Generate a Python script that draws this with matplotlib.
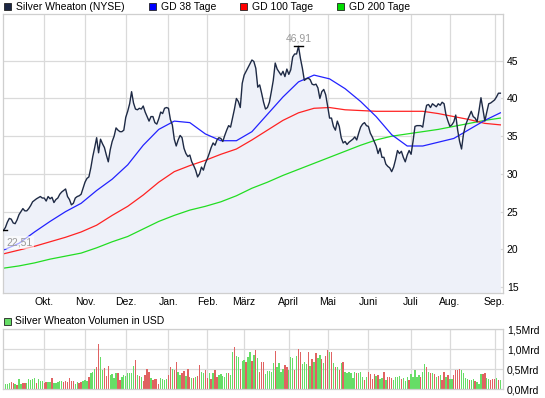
import numpy as np
import pandas as pd
import matplotlib
matplotlib.use('Agg')
import matplotlib.pyplot as plt
from matplotlib.patches import Rectangle

plt.rcParams['font.family'] = ['Liberation Sans', 'DejaVu Sans']
plt.rcParams['font.size'] = 7.5

# NYSE trading days Sep 2010 - Sep 2011
holidays = ['2010-09-06', '2010-11-25', '2010-12-24', '2011-01-17', '2011-02-21',
            '2011-04-22', '2011-05-30', '2011-07-04', '2011-09-05']
dates = pd.bdate_range('2010-09-01', '2011-09-07', freq='C', holidays=holidays)

price = [
    22.51, 22.9, 23.6, 24.1, 24.0, 23.5, 23.4, 23.9, 24.6, 25.0,
    25.4, 25.1, 25.1, 25.4, 25.8, 26.3, 26.5, 26.7, 26.85, 27.0,
    26.8, 26.8, 26.4, 27.0, 26.7, 26.9, 26.2, 26.6, 26.8, 27.3,
    27.6, 27.8, 28.0, 27.0, 26.6, 25.9, 26.1, 26.8, 27.0, 27.1,
    27.3, 28.1, 28.9, 29.4, 29.6, 30.8, 32.3, 33.5, 34.8, 32.8,
    34.6, 34.0, 33.5, 32.5, 31.6, 33.2, 34.3, 35.0, 36.1, 35.8,
    35.6, 35.6, 35.8, 37.5, 38.3, 39.3, 40.9, 39.4, 38.6, 38.5,
    38.7, 38.6, 39.0, 38.2, 37.6, 37.0, 37.6, 37.6, 36.8, 36.6,
    37.3, 38.2, 38.0, 38.7, 38.8, 38.7, 37.2, 36.5, 34.6, 33.7,
    34.5, 35.1, 34.8, 33.4, 32.7, 32.3, 32.5, 31.6, 31.1, 30.5,
    29.6, 30.0, 30.9, 30.5, 31.4, 32.0, 32.7, 33.5, 34.1, 33.8,
    34.5, 34.8, 34.7, 34.3, 35.1, 35.8, 36.4, 36.2, 37.4, 38.6,
    40.0, 39.6, 38.8, 42.0, 43.1, 43.6, 44.1, 44.6, 45.1, 44.9,
    44.0, 41.5, 41.8, 40.7, 39.5, 38.6, 38.8, 39.5, 40.9, 42.4,
    44.7, 43.9, 43.5, 43.1, 43.6, 42.9, 43.9, 43.2, 43.8, 45.5,
    45.9, 45.9, 46.91, 45.3, 44.0, 42.4, 42.6, 42.7, 42.5, 41.9,
    41.8, 41.9, 41.4, 40.0, 40.9, 41.2, 40.5, 39.0, 37.4, 37.4,
    36.3, 35.8, 37.0, 36.3, 34.8, 34.1, 34.3, 33.9, 34.2, 34.4,
    34.6, 34.9, 34.5, 35.4, 36.2, 36.6, 36.8, 36.4, 36.3, 35.4,
    34.9, 34.3, 33.7, 32.7, 33.4, 32.2, 32.2, 31.3, 31.0, 30.8,
    30.3, 30.9, 31.9, 33.1, 32.7, 33.0, 32.2, 31.6, 32.5, 33.1,
    32.6, 34.3, 36.3, 36.4, 36.4, 36.4, 36.2, 37.9, 39.1, 39.2,
    38.8, 39.3, 39.1, 38.9, 39.3, 39.1, 39.5, 39.3, 37.8, 37.0,
    36.3, 36.5, 36.9, 37.8, 35.8, 34.3, 33.3, 35.3, 36.4, 37.1,
    37.7, 38.3, 37.6, 37.4, 36.9, 38.4, 40.1, 38.6, 37.0, 38.2,
    39.3, 39.4, 39.6, 39.8, 40.2, 40.7, 40.7,
]

# moving averages read every 8 trading days
ma_days = list(range(0, 257, 8))
gd38 = [19.9, 20.8, 22.3, 23.7, 25.0, 26.1, 27.8, 29.3, 31.2, 33.8, 35.9,
        37.0, 36.8, 35.3, 34.4, 34.4, 35.6, 37.9, 40.2, 42.2, 43.1, 42.6,
        41.3, 39.6, 37.6, 35.2, 33.7, 33.7, 34.2, 34.7, 35.9, 37.1, 38.1]
gd100 = [19.4, 19.9, 20.4, 21.0, 21.6, 22.3, 23.2, 24.5, 25.7, 27.2, 28.9,
         30.3, 31.1, 31.8, 32.6, 33.3, 34.5, 35.8, 37.1, 38.1, 38.7, 38.8,
         38.5, 38.4, 38.3, 38.3, 38.3, 38.3, 38.0, 37.6, 37.2, 36.7, 36.5]
gd200 = [17.5, 17.8, 18.2, 18.7, 19.1, 19.5, 20.2, 21.0, 21.7, 22.7, 23.7,
         24.5, 25.2, 25.7, 26.3, 27.1, 28.1, 28.9, 29.8, 30.6, 31.4, 32.2,
         33.0, 33.8, 34.5, 35.0, 35.3, 35.6, 35.9, 36.3, 36.7, 37.1, 37.4]

# volume in Mrd USD, g = up day, r = down day
volume = [
    .13, .13, .14, .17, .18, .17, .13, .11, .26, .13,
    .16, .16, .16, .25, .24, .27, .28, .17, .25, .21,
    .22, .16, .18, .18, .18, .28, .16, .15, .18, .22,
    .20, .19, .20, .18, .28, .21, .21, .14, .19, .17,
    .18, .20, .23, .21, .30, .40, .43, .50, .55, 1.13,
    .80, .48, .53, .34, .58, .36, .38, .28, .41, .41,
    .23, .30, .36, .33, .40, .40, .40, .58, .73, .36,
    .34, .32, .22, .36, .50, .44, .28, .23, .25, .25,
    .13, .28, .26, .23, .26, .36, .55, .52, .48, .68,
    .44, .36, .40, .46, .33, .52, .32, .29, .29, .32,
    .34, .61, .44, .42, .48, .29, .40, .25, .42, .48,
    .32, .36, .38, .33, .32, .42, .42, .36, .94, 1.07,
    .83, .80, .50, .70, .73, .69, .80, .94, .71, .86,
    .98,
    .78, .44, .68, .68, .38, .45, .45, .43, .65, .96,
    .57, .65, .43, .50, .61, .57, .48, .80, .78, .48,
    .83, 1.00, .93, .63, .69, .63, .93, .58, .75, .69,
    .92, .78, .86, .77, .65, .83, .98, .93, .93, .65,
    .55, .57, .48, .67, .68, .44, .42, .44, .42, .28,
    .44, .40, .40, .43, .32, .23, .32, .43, .38, .25,
    .38, .33, .36, .25, .28, .44, .23, .32, .30, .28,
    .23, .30, .30, .33, .26, .28, .21, .32, .23, .38,
    .32, .48, .32, .36, .32, .44, .63, .55, .44, .42,
    .40, .38, .32, .33, .36, .23, .44, .32, .36, .26,
    .26, .35, .48, .48, .50, .48, .40, .28, .25, .23,
    .24, .25, .22, .19, .13, .38, .38, .42, .28, .25,
    .23, .25, .25, .28, .23, .23,
]
vol_dir = ("rgggrrgrgg" "rrgggggrgg" "grrggrgggg" "grrrrrrggr" "rgggrgggrr"
           "ggrrrggggr" "rgggggggrg" "rgrrrrgrrr" "rggggrrgrr" "ggrrgrrgrg"
           "rrggrrgrgr" "rgggggrggr" "ggrggrggrg" "r"
           "grrrgggggr" "ggggrrgggr" "grrgggrgrg" "rggrgrrgrg" "rgrgrggggg"
           "grgggrgrrr" "rgrggrgrrr" "ggggrgggrg" "ggggrggrgr" "grgrgrrgrg"
           "grrrrggggr" "ggrgggrrgg" "rrrgrg")

month_names = ['Okt.', 'Nov.', 'Dez.', 'Jan.', 'Feb.', 'März', 'April', 'Mai',
               'Juni', 'Juli', 'Aug.', 'Sep.']

assert len(price) == len(dates) == len(volume) == len(vol_dir)

x = np.arange(len(price))
month_start = [i for i in range(1, len(dates)) if dates[i].month != dates[i - 1].month]

W, H = 545, 398
def box(l, t, r, b):
    return [l / W, 1 - b / H, (r - l) / W, (b - t) / H]

fig = plt.figure(figsize=(W / 100, H / 100), dpi=100)
ax = fig.add_axes(box(2.7, 14, 502.7, 293.3))
axv = fig.add_axes(box(2.7, 329.3, 502.7, 389.3))

grid_c = '#dadada'
for a in (ax, axv):
    a.set_xlim(-0.4, 257.2)
    a.set_xticks(month_start)
    a.grid(color=grid_c, lw=0.9)
    a.set_axisbelow(True)
    a.yaxis.tick_right()
    a.tick_params(length=0, pad=3, labelsize=7.5)
    for s in a.spines.values():
        s.set_color('#cfcfcf')
        s.set_linewidth(0.9)

# price panel
ax.fill_between(x, price, 0, color='#eef1f9', lw=0, zorder=1)
ax.plot(ma_days, gd200, color='#22dd22', lw=0.9, zorder=2)
ax.plot(ma_days, gd100, color='#ff2222', lw=0.9, zorder=2)
ax.plot(ma_days, gd38, color='#2222ff', lw=0.9, zorder=2)
ax.plot(x, price, color='#1e2a45', lw=1.0, zorder=3)
ax.set_ylim(14.17, 51.2)
ax.set_yticks([15, 20, 25, 30, 35, 40, 45])
ax.set_xticklabels(month_names)

ip = int(np.argmax(price))
pmax = price[ip]
ax.plot([ip - 2.5, ip + 2.5], [pmax, pmax], color='black', lw=1, zorder=4)
ax.annotate(f'{pmax:.2f}'.replace('.', ','), (ip, pmax), xytext=(0, 2),
            textcoords='offset points', ha='center', va='bottom', color='#999999')
p0 = price[0]
ax.plot([-0.4, 2], [p0, p0], color='black', lw=1, zorder=4)
ax.annotate(f'{p0:.2f}'.replace('.', ','), (0, p0), xytext=(2, -5),
            textcoords='offset points', ha='left', va='top', color='#999999',
            bbox=dict(facecolor='white', alpha=0.6, edgecolor='none', pad=1))

# volume panel
colors = ['#66dd66' if c == 'g' else '#e06262' for c in vol_dir]
axv.bar(x, volume, width=0.7, color=colors, lw=0, antialiased=False, zorder=2)
axv.set_ylim(0, 1.5)
axv.set_yticks([0, 0.5, 1.0, 1.5])
axv.set_yticklabels(['0,0Mrd', '0,5Mrd', '1,0Mrd', '1,5Mrd'])
axv.set_xticklabels([])

# legends
legend = [('Silver Wheaton (NYSE)', '#1c2744', 4),
          ('GD 38 Tage', '#0000ff', 149),
          ('GD 100 Tage', '#ff0000', 240),
          ('GD 200 Tage', '#00dd00', 337)]
for label, c, lx in legend:
    fig.patches.append(Rectangle((lx / W, 1 - 10.4 / H), 7 / W, 7 / H,
                                 transform=fig.transFigure, facecolor=c,
                                 edgecolor='#222222', lw=0.6))
    fig.text((lx + 11.6) / W, 1 - 6.8 / H, label, va='center')

fig.patches.append(Rectangle((3.5 / W, 1 - 324.7 / H), 7 / W, 7 / H,
                             transform=fig.transFigure, facecolor='#66dd66',
                             edgecolor='#222222', lw=0.6))
fig.text(15 / W, 1 - 321 / H, 'Silver Wheaton Volumen in USD', va='center')

fig.savefig('out.png', dpi=100)
